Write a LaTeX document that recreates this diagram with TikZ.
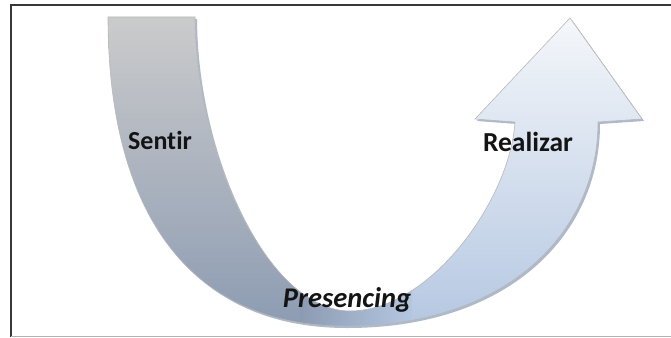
\documentclass[tikz,border=0pt]{standalone}
\usepackage{fontspec}
\setmainfont[Ligatures=NoCommon]{Carlito}
\definecolor{shadowblue}{RGB}{120,138,168}
\definecolor{slate}{RGB}{140,155,178}
\definecolor{paleblue}{RGB}{180,199,225}
\definecolor{nearwhite}{RGB}{246,248,251}
\begin{document}
\begin{tikzpicture}[x=1pt,y=-1pt,
  label/.style={font=\fontsize{26}{30}\selectfont\bfseries, text=black!92, inner sep=0pt},
  frameline/.style={line width=2pt, draw=black!78}]
\useasboundingbox (0,0) rectangle (671,337);

% outline of the U-shaped arrow
\def\uarrow{(108,17) .. controls (108,200) and (180,326) .. (345,326)
  .. controls (510,326) and (598,230) .. (598,122)
  -- (642,119) -- (570,18) -- (475,119) -- (515,122)
  .. controls (510,200) and (430,311) .. (350,311)
  .. controls (270,311) and (196,160) .. (195,17) -- cycle}

% soft shadow
\fill[shadowblue, opacity=0.6, shift={(2,2)}] \uarrow;

% body with colour running from grey (left) to pale blue-white (head)
\begin{scope}
  \clip \uarrow;
  \shade[top color=black!20, bottom color=slate] (100,10) rectangle (346,330);
  \shade[top color=nearwhite, bottom color=paleblue] (345,10) rectangle (650,330);
  \shade[left color=slate, right color=paleblue] (300,288) rectangle (412,330);
\end{scope}
\draw[line width=0.6pt, draw=black!28] \uarrow;

% frame
\draw[frameline] (11,337) -- (11,5) -- (675,5);
\draw[line width=1pt, draw=black!30] (11,336) -- (675,336);

% labels
\node[label] (sentir) at (160,140) {Sentir};
\node[label, font=\fontsize{27.5}{32}\selectfont\bfseries] (realizar) at (528,142) {Realizar};
\node[label, font=\fontsize{28.5}{32}\selectfont\bfseries\itshape] (presencing) at (347,300) {Presencing};
\end{tikzpicture}
\end{document}
